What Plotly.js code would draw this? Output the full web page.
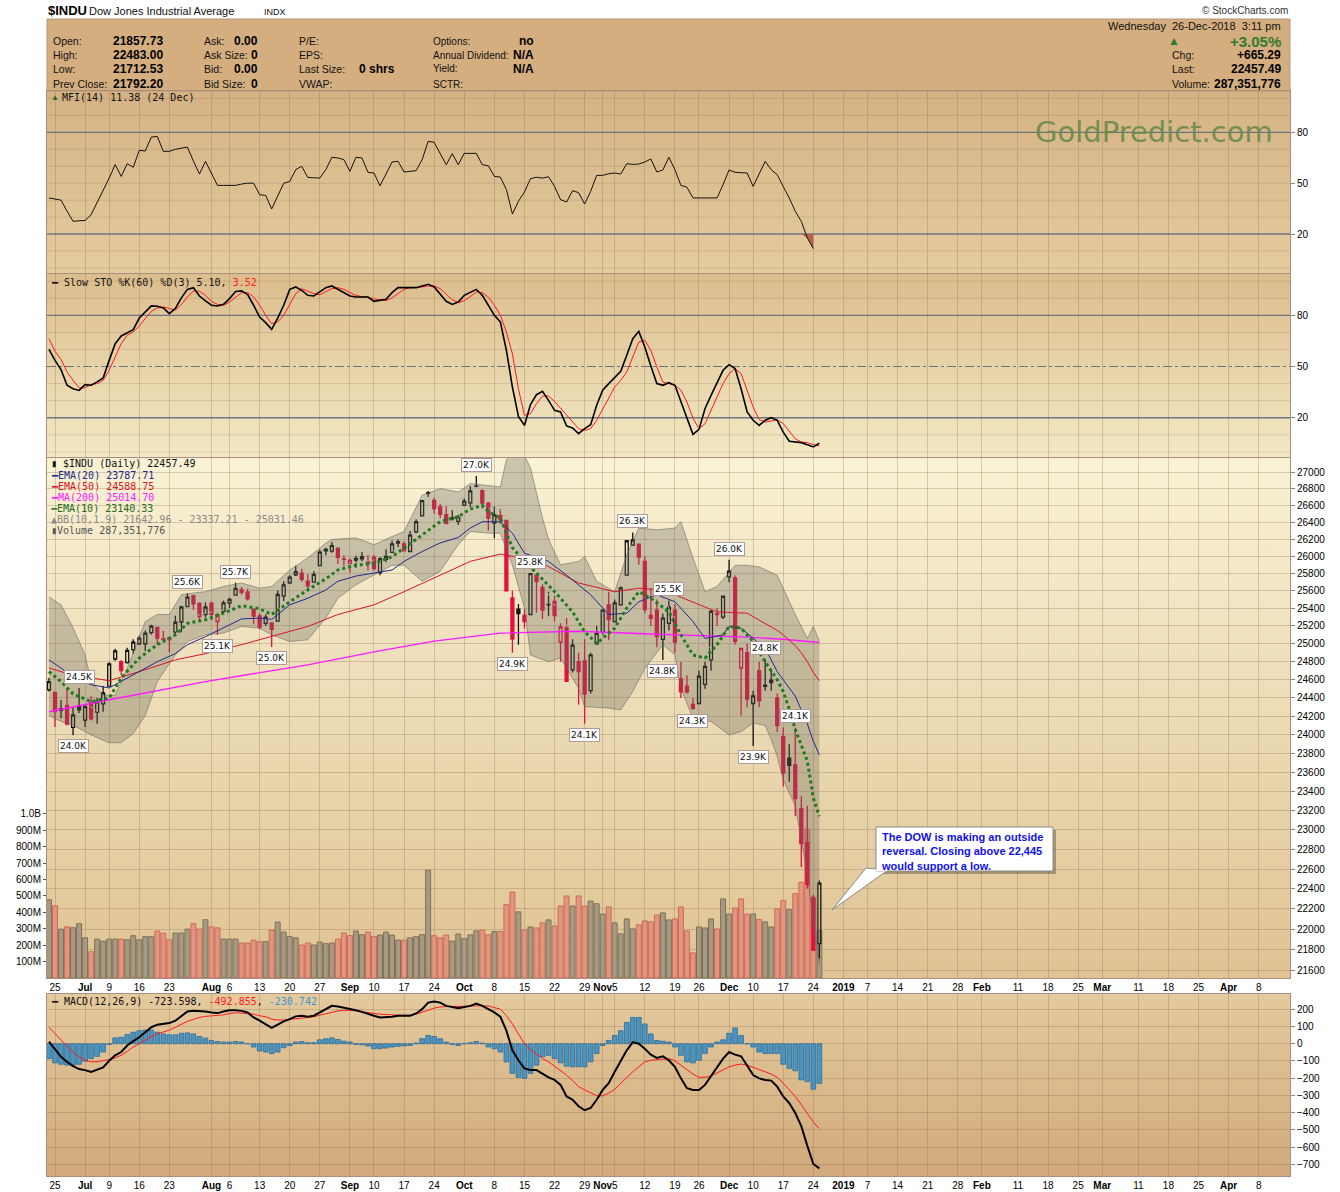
<!DOCTYPE html>
<html><head><meta charset="utf-8">
<script src="https://cdn.plot.ly/plotly-3.0.1.min.js"></script>
<style>html,body{margin:0;padding:0;background:#fff}#chart{width:1340px;height:1192px}</style>
</head><body><div id="chart"></div>
<script>
// ---------------- DATA ----------------
const open = [24490,24460,24265,24320,24080,24313,24160,24355,24245,24335,
24530,24830,24800,24790,24935,25000,25000,25125,25185,25050,
25070,25130,25245,25420,25545,25455,25330,25460,25250,25365,
25460,25550,25615,25585,25390,25315,25230,25235,25255,25540,
25690,25785,25805,25710,25700,25890,26080,26060,26095,25970,
25915,25955,25970,25935,25985,25810,25965,26045,26170,26145,
26055,26285,26475,26750,26660,26580,26490,26450,26410,26600,
26630,26830,26775,26625,26390,26480,26420,25520,25390,25320,
25330,25780,25640,25440,25480,25020,25180,24710,24800,24810,
24480,25000,25130,25440,25250,25440,25780,26130,26140,25940,
25320,25380,25050,25230,25380,24610,24530,24330,24340,24550,
24820,25330,25300,25760,25750,24730,24900,24340,24700,24540,
24570,24400,23980,23750,23680,23220,22870,22315,21857.73];
const high = [24620,24460,24375,24510,24300,24510,24320,24420,24400,24530,
24795,24945,24815,24955,25050,25090,25150,25215,25185,25145,
25080,25315,25430,25572,25555,25470,25470,25475,25350,25490,
25520,25692,25645,25625,25390,25345,25330,25235,25605,25710,
25780,25890,25855,25790,25825,26075,26100,26165,26095,26010,
25975,26005,26050,26015,26015,25990,26080,26185,26195,26175,
26295,26435,26660,26770,26690,26620,26590,26540,26485,26680,
26830,26951,26790,26640,26585,26555,26420,25600,25450,25390,
25800,25800,25675,25590,25540,25230,25290,25050,24900,25050,
24900,25200,25390,25590,25500,25650,26181,26278,26150,26000,
25630,25500,25340,25490,25450,24800,24650,24400,24700,24800,
25380,25400,25540,25960,25780,24950,25000,24480,24800,24830,
24700,24450,24080,23900,24080,23350,23250,22340,22483.00];
const low = [24470,24085,24180,24105,23997,24236,24085,24155,24120,24250,
24530,24810,24650,24780,24890,24985,24920,25105,24985,25010,
24905,25110,25130,25415,25380,25265,25295,25265,25100,25345,
25405,25550,25555,25490,25220,25160,25200,24965,25255,25485,
25680,25770,25705,25605,25700,25890,26010,26040,25910,25870,
25810,25865,25935,25835,25835,25780,25930,26045,26105,26055,
26055,26270,26475,26700,26500,26445,26375,26420,26365,26595,
26580,26815,26560,26300,26210,26375,25590,24900,24990,25170,
25330,25350,25280,25310,25250,24800,24580,24680,24330,24120,
24450,24990,25100,25040,25240,25430,25780,26120,25900,25340,
25200,24960,24820,25150,24900,24400,24450,24270,24330,24500,
24700,25200,25280,25700,24990,24210,24300,23881,24300,24480,
24480,24030,23450,23500,23140,22620,22400,21792,21712.53];
const close = [24580,24252,24283,24117,24216,24271,24307,24174,24357,24456,
24776,24920,24700,24925,25019,25064,25120,25199,25064,25058,
25044,25242,25415,25527,25451,25307,25415,25333,25326,25463,
25502,25629,25583,25509,25313,25187,25300,25162,25558,25669,
25758,25822,25733,25656,25790,26049,26064,26124,25986,25965,
25952,25974,25995,25916,25857,25971,25999,26145,26154,26062,
26246,26405,26657,26743,26562,26492,26385,26439,26458,26651,
26773,26828,26627,26447,26486,26430,25599,25053,25340,25250,
25798,25706,25380,25444,25317,25191,24583,24984,24689,24443,
24875,25116,25380,25271,25462,25635,26181,26191,25989,25387,
25287,25081,25290,25413,25018,24466,24465,24286,24640,24749,
25366,25339,25538,25826,25027,24947,24389,24423,24370,24528,
24597,24101,23592,23675,23324,22859,22445,21792.20,22457.49];
// volume in millions of shares
const volumeM = [477,440,298,312,306,331,245,160,237,225,
237,237,237,233,258,233,252,252,286,274,
233,274,274,298,331,298,355,312,306,237,
237,237,213,213,231,221,221,292,341,280,
252,245,201,213,201,219,209,213,237,274,
258,286,264,280,252,262,280,262,231,231,
245,252,264,657,258,245,262,225,268,240,
263,287,293,263,283,283,447,524,403,293,
311,305,336,354,317,439,500,439,500,439,
469,453,390,433,336,269,360,299,324,348,
342,384,397,354,360,433,287,153,311,305,
360,299,482,390,427,482,390,390,356,342,
311,421,473,417,514,583,907,482,287];
// Money Flow Index (to 24 Dec)
const mfi = [41.3,40.5,40,33.5,27.5,27.8,28,31.4,38.3,46,
53,61,54,61.5,59.4,69.4,69,77.2,77.6,68.8,
68.8,70,70.6,71.3,63,55.4,62.9,55.8,48.7,48.7,
48.7,48.7,49.5,50,50,43.2,42.8,34.8,42.4,50,
51,58,60,53.4,53.2,53,58,65.3,64.9,63.9,
57,65.3,64.9,56.4,56,48.5,55.4,62.5,62.9,56.6,
57,57.4,63.9,74.7,74.1,67.8,60.9,67.4,60.9,67.6,
67.6,67.6,60.9,60.3,54,53.6,46.2,31.8,39.3,44.8,
52.7,53.5,53,53.8,48.1,40.3,38.9,45.6,44.4,37.7,
45.2,54.6,54.6,55.6,56,55.4,61.5,61.1,61.3,62.5,
64.3,56.6,57.8,65.3,58,48.7,47.6,41.3,41.3,41.3,
41.3,41.3,49.1,57.8,56.4,56.2,56,48.1,55.4,62.9,
58,55,48,41.3,33.4,27.5,17.7,11.38];
// Slow stochastic %K(60) and %D(3)
const stoK = [60.1,53.6,48.2,39,37,36,39.4,39,41,43.3,
53.6,63.4,67.9,69.8,71.6,78.4,82,85.5,85.3,84.3,
81,84,90.2,95.2,96.2,91.3,88.4,85.9,85.5,86.4,
89.8,94,94.3,92.1,85.9,79,75.7,71.8,78.4,85.9,
95.2,96.6,94.6,91.7,91.3,94,96.2,97.2,95.2,93.3,
91.3,90.7,90.7,90.7,88.2,88.6,89.4,93.3,96.2,96.2,
96.2,96.2,97.2,98.2,96.6,92.7,88.2,86.4,87.8,91.7,
93.7,95.2,91.7,85.9,80,76.1,59.5,38,20.8,15.5,
27.7,33.5,35.5,30.2,24.3,23.4,15.2,14,10.7,13.6,
15.9,27.3,36.1,40,43.9,47.2,56.6,66.3,70.6,61.4,
50.3,40,39,40.5,39,29.2,19.5,10.3,13.2,25.3,
33.1,40,47.8,51.1,48.8,37,23.4,18.5,15.5,18.5,
20,18.5,11.6,6.2,5.8,5.4,4.2,2.9,5.10];
const stoD = [66.3,58.9,54.2,46.8,41.9,37.4,37.6,39.4,40,41.9,
47.8,55.6,63.4,68.3,70.2,73.8,78,82.3,84.3,84.9,
84,83,86.3,90.7,94.3,94.1,91.7,88.2,86.4,85.9,
87.8,90.7,93.3,93.3,90.7,85.9,80,75.1,76.1,80,
86.8,92.7,95.6,94.3,92.7,92.1,93.7,95.6,96.2,95.2,
93.3,91.7,90.9,90.7,89.6,89,88.6,90.2,92.9,95.2,
96.2,96.2,96.6,97.2,97.2,95.6,92.1,89.2,87.4,88.6,
90.9,93.7,93.3,90.7,85.9,80,70.2,57.5,37,21.4,
22.4,28.2,32.7,32.7,29.6,25.7,21.4,17.9,13.6,12.6,
13.6,18.5,25.3,32.1,38,41.9,46.8,55.6,64.4,65.4,
59.5,49.7,40.9,40,39,36.1,29.2,19.8,13.6,16.5,
24.3,33.1,40,45.8,48.8,45.8,36.1,26.3,18.9,17.5,
18.1,18.9,16.5,12,7.7,5.8,5.4,4.2,3.52];
// MACD(12,26,9)
const macd = [13,-34,-76,-105,-130,-147,-153,-164,-153,-138,
-99,-67,-48,-10,15,38,67,96,111,117,
120,134,163,187,191,191,187,182,178,187,
195,195,191,182,153,134,115,92,111,130,
143,159,163,157,163,182,201,220,216,210,
205,195,185,176,163,153,153,157,163,161,
163,176,201,239,245,239,220,214,207,214,
220,233,220,201,182,157,76,-38,-96,-143,
-153,-153,-176,-195,-210,-239,-306,-325,-363,-386,
-373,-325,-268,-229,-163,-96,-38,10,0,-29,
-63,-82,-73,-96,-134,-201,-258,-268,-268,-239,
-187,-140,-86,-48,-63,-73,-130,-182,-201,-210,
-214,-249,-306,-344,-402,-478,-593,-698,-723.598];
const signal = [96,57,19,-15,-48,-76,-96,-105,-105,-99,
-92,-82,-67,-44,-19,0,23,42,57,67,
80,96,115,130,141,153,159,161,164,168,
176,180,178,176,172,163,157,143,138,138,
143,147,149,153,157,166,172,182,191,195,
195,191,185,182,176,172,168,168,166,166,
166,172,182,195,207,214,216,216,216,214,
218,220,220,220,210,201,163,115,57,0,
-34,-61,-86,-105,-130,-153,-182,-214,-249,-268,
-287,-302,-302,-287,-264,-229,-195,-163,-134,-105,
-96,-92,-86,-86,-99,-124,-153,-176,-195,-195,
-187,-168,-149,-134,-124,-118,-124,-138,-153,-163,
-176,-195,-229,-268,-306,-354,-402,-455,-492.855];
const hist = [-86,-111,-119,-124,-124,-119,-101,-86,-73,-48,
-4,34,38,54,67,76,80,80,67,57,
52,52,61,63,57,42,33,19,13,10,
10,13,10,0,-19,-42,-48,-57,-48,-23,
-10,10,13,6,6,23,29,34,25,15,
10,-4,-6,-13,-29,-29,-25,-19,-15,-13,
-10,4,29,48,42,29,10,-4,-10,0,
6,13,4,-19,-29,-48,-105,-172,-195,-201,
-172,-124,-76,-67,-86,-111,-130,-134,-134,-134,
-105,-57,-10,19,48,76,124,153,153,115,
57,19,15,10,-19,-67,-105,-111,-96,-57,
-19,10,23,61,92,48,0,-19,-48,-57,
-57,-57,-119,-143,-157,-210,-220,-264,-230.742];
// overlays read at sample days (index into trading-day list)
const ema20At = [0,2,4,7,10,12,15,18,21,23,26,29,32,35,37,40,43,46,48,51,54,57,59,62,65,68,70,72,75,77,79,83,86,90,93,96,98,101,104,107,109,112,113,115,119,121,124,125,126,127,128];
const ema20 = [24820,24730,24630,24545,24510,24580,24690,24800,24890,24990,25080,25180,25280,25290,25275,25440,25515,25610,25710,25770,25805,25840,25940,26055,26155,26220,26330,26405,26405,26270,26035,25940,25780,25555,25330,25345,25475,25555,25475,25250,25060,25100,25195,25175,24950,24690,24420,24260,24120,23930,23787.71];
const ema10At = [0,2,4,7,10,12,15,18,21,23,26,29,32,35,37,40,43,46,48,51,54,57,59,62,65,68,70,72,73,75,77,79,81,84,87,89,91,94,96,98,100,103,105,107,109,111,113,115,117,119,121,122,123,124,125,126,127,128];
const ema10 = [24690,24580,24445,24360,24400,24620,24840,24990,25100,25230,25270,25345,25430,25395,25330,25475,25610,25740,25840,25895,25915,25995,26095,26250,26405,26465,26555,26600,26525,26445,26100,25940,25805,25590,25360,25135,25005,25175,25405,25590,25515,25360,25100,24875,24840,24990,25195,25175,25025,24800,24600,24470,24280,24060,23900,23720,23330,23140.33];
const ema50At = [0,4,10,15,21,26,32,37,43,48,54,59,65,70,75,77,80,83,88,94,98,102,108,111,116,121,122,123,124,125,126,127,128];
const ema50 = [24730,24650,24590,24690,24820,24890,24990,25080,25195,25330,25440,25590,25780,25940,26025,26000,25960,25880,25690,25590,25630,25610,25440,25360,25345,25150,25100,25040,24980,24900,24800,24680,24588.75];
const ma200At = [0,10,26,43,54,64,75,88,100,110,116,122,128];
const ma200 = [24250,24380,24580,24765,24910,25030,25120,25140,25110,25085,25075,25050,25014.70];
const bbUpAt = [0,2,4,6,7,9,11,13,16,18,20,22,24,26,29,32,35,37,40,43,46,47,51,54,57,59,62,65,68,70,75,76,77,79,80,81,82,83,85,88,89,91,94,96,98,101,104,105,107,109,111,114,116,118,121,124,126,127,128];
const bbUp = [25530,25440,25180,24875,24580,24430,24430,24730,25250,25330,25330,25555,25575,25590,25650,25690,25630,25650,25840,25980,26155,26195,26215,26135,26230,26290,26720,26800,26760,26860,26820,27150,27250,27200,27050,26750,26450,26200,25900,25940,25995,25710,25590,26015,26330,26310,26330,26405,25980,25590,25650,25895,25895,25875,25780,25330,25060,25195,25031.46];
const bbLoAt = [0,2,4,7,10,12,14,16,18,21,23,26,29,32,35,37,40,43,46,48,51,54,57,59,62,65,68,70,73,75,77,79,80,83,85,88,89,93,95,97,99,102,104,105,107,110,113,115,117,119,120,121,122,124,125,126,127,128];
const bbLo = [24210,24145,24105,24000,23915,23915,24015,24210,24580,24875,25025,25100,25120,25195,25175,25100,25025,25045,25290,25515,25670,25780,25895,25895,25710,25825,26135,26290,26270,26270,25895,25405,24875,24800,24840,24505,24305,24290,24270,24470,24725,24990,24875,24505,24180,24145,24000,24035,24130,24100,23950,23770,23520,23250,22900,22550,22050,21642.96];
const bbMidAt = [0,4,7,10,12,14,16,18,21,23,26,29,32,35,37,40,43,46,48,51,54,57,59,62,65,68,70,75,77,80,83,86,89,92,94,97,100,102,104,107,110,113,116,119,121,124,125,126,127,128];
const bbMid = [24860,24640,24300,24170,24170,24400,24730,24950,25100,25290,25345,25380,25440,25405,25370,25430,25505,25720,25860,25930,25955,26060,26095,26215,26310,26450,26580,26545,26370,26015,25555,25210,24990,24985,25080,25405,25555,25515,25290,25025,24950,25100,25005,24910,24750,24300,24050,23800,23550,23337.21];
// price flags: [day index, 'H' = high / 'L' = low]
const flags = [[4,'L'],[5,'H'],[23,'H'],[28,'L'],[31,'H'],[37,'L'],[71,'H'],[77,'L'],[80,'H'],[89,'L'],[97,'H'],[102,'L'],[103,'H'],[107,'L'],[113,'H'],[117,'L'],[119,'H'],[124,'H']];
// axis ticks
const tickDates = ['2018-06-25','2018-07-02','2018-07-09','2018-07-16','2018-07-23','2018-08-01','2018-08-06','2018-08-13','2018-08-20','2018-08-27','2018-09-04','2018-09-10','2018-09-17','2018-09-24','2018-10-01','2018-10-08','2018-10-15','2018-10-22','2018-10-29','2018-11-01','2018-11-05','2018-11-12','2018-11-19','2018-11-26','2018-12-03','2018-12-10','2018-12-17','2018-12-24','2019-01-01','2019-01-07','2019-01-14','2019-01-21','2019-01-28','2019-02-01','2019-02-11','2019-02-18','2019-02-25','2019-03-01','2019-03-11','2019-03-18','2019-03-25','2019-04-01','2019-04-08'];
const tickLabels = ['25','Jul','9','16','23','Aug','6','13','20','27','Sep','10','17','24','Oct','8','15','22','29','Nov','5','12','19','26','Dec','10','17','24','2019','7','14','21','28','Feb','11','18','25','Mar','11','18','25','Apr','8'];
const priceTicks = [21600,21800,22000,22200,22400,22600,22800,23000,23200,23400,23600,23800,24000,24200,24400,24600,24800,25000,25200,25400,25600,25800,26000,26200,26400,26600,26800,27000];
const volTicks = [1e8,2e8,3e8,4e8,5e8,6e8,7e8,8e8,9e8,1e9];
const volTickText = ['100M','200M','300M','400M','500M','600M','700M','800M','900M','1.0B'];
const quoteRows = [
  ['Open:','21857.73','Ask:','0.00','P/E:','','Options:','no'],
  ['High:','22483.00','Ask Size:','0','EPS:','','Annual Dividend:','N/A'],
  ['Low:','21712.53','Bid:','0.00','Last Size:','0 shrs','Yield:','N/A'],
  ['Prev Close:','21792.20','Bid Size:','0','VWAP:','','SCTR:','']
];
const quoteRight = [['Chg:','+665.29'],['Last:','22457.49'],['Volume:','287,351,776']];

// ---------------- calendar (trading days + future weekdays) ----------------
const fmt = d => d.toISOString().slice(0,10);
const holidays = new Set(['2018-07-04','2018-09-03','2018-11-22','2018-12-05','2018-12-25']);
const allDates = [];
for (let d = new Date(Date.UTC(2018,5,22)); d <= new Date(Date.UTC(2019,3,12)); d.setUTCDate(d.getUTCDate()+1)) {
  const wd = d.getUTCDay(), s = fmt(d);
  if (wd === 0 || wd === 6) continue;
  if (holidays.has(s)) continue;
  allDates.push(s);
}
const dayIdx = {}; allDates.forEach((d,i)=>dayIdx[d]=i);
const tickIdx = tickDates.map(d => dayIdx[d]);
const monthSet = new Set(['Jul','Aug','Sep','Oct','Nov','Dec','2019','Feb','Mar','Apr']);
const tickText = tickLabels.map(t => monthSet.has(t) ? '<b>'+t+'</b>' : t);

// ---------------- geometry helpers (pixel -> paper) ----------------
const ML = 47, MR = 50, MT = 19, MB = 16, W = 1340, H = 1192;
const PW = W - ML - MR, PH = H - MT - MB;
const PX = X => (X - ML) / PW;
const PY = Y => (H - MB - Y) / PH;
const dom = {
  macd: [PY(1176), PY(994)], price: [PY(978), PY(458)],
  sto: [PY(457), PY(274)], mfi: [PY(273), PY(91)], head: [PY(91), PY(19)]
};

const N = close.length;
const xs = close.map((_, i) => i);
const RED = '#e3103c', BLK = '#111111', HOLLOW = 'rgba(0,0,0,0)';

// ---------------- traces ----------------
const traces = [];
const volColor = xs.map(i => (i > 0 && close[i] < close[i-1]) ? '#e0967f' : '#a89a80');
const volLine = xs.map(i => (i > 0 && close[i] < close[i-1]) ? '#cf6a58' : '#7e705c');
traces.push({type:'bar', x: xs, y: volumeM.map(v => v*1e6), xaxis:'x2', yaxis:'y2',
  marker:{color: volColor, line:{color: volLine, width:1}}, width:0.82, hoverinfo:'skip', showlegend:false});

const cat = i => (close[i] >= open[i] ? 'h' : 'f') + ((i > 0 && close[i] < close[i-1]) ? 'r' : 'k');
const cStyle = {hk:[BLK,HOLLOW], hr:[RED,HOLLOW], fk:[BLK,BLK], fr:[RED,RED]};
Object.keys(cStyle).forEach(k => {
  const ids = xs.filter(i => cat(i) === k);
  const [lc, fc] = cStyle[k];
  traces.push({type:'candlestick', x: ids, open: ids.map(i=>open[i]), high: ids.map(i=>high[i]),
    low: ids.map(i=>low[i]), close: ids.map(i=>close[i]), xaxis:'x2', yaxis:'y3',
    increasing:{line:{color:lc, width:1.3}, fillcolor:fc}, decreasing:{line:{color:lc, width:1.3}, fillcolor:fc},
    whiskerwidth:0, hoverinfo:'skip', showlegend:false});
});
traces.push({type:'scatter', mode:'lines', x: bbLoAt, y: bbLo, xaxis:'x2', yaxis:'y3',
  line:{color:'rgba(100,100,92,0.55)', width:1}, hoverinfo:'skip', showlegend:false});
traces.push({type:'scatter', mode:'lines', x: bbUpAt, y: bbUp, xaxis:'x2', yaxis:'y3', fill:'tonexty',
  fillcolor:'rgba(105,105,95,0.33)', line:{color:'rgba(100,100,92,0.55)', width:1}, hoverinfo:'skip', showlegend:false});
traces.push({type:'scatter', mode:'lines', x: bbMidAt, y: bbMid, xaxis:'x2', yaxis:'y3',
  line:{color:'#b4b2a6', width:1, dash:'dot'}, hoverinfo:'skip', showlegend:false});
const lineT = (at, v, color, width, dash) => ({type:'scatter', mode:'lines', x: at, y: v, xaxis:'x2', yaxis:'y3',
  line:{color, width, dash: dash || 'solid'}, hoverinfo:'skip', showlegend:false});
traces.push(lineT(ma200At, ma200, '#ff1aff', 1.4));
traces.push(lineT(ema50At, ema50, '#d9142a', 1));
traces.push(lineT(ema20At, ema20, '#1f2a8c', 1));
traces.push(lineT(ema10At, ema10, '#1e7a1e', 3, 'dot'));

// MFI
const mfiX = mfi.map((_, i) => i);
const below = mfiX.filter(i => mfi[i] < 20 || (i+1 < mfi.length && mfi[i+1] < 20));
traces.push({type:'scatter', mode:'lines', x: below, y: below.map(()=>20), xaxis:'x4', yaxis:'y5',
  line:{width:0, color:'rgba(0,0,0,0)'}, hoverinfo:'skip', showlegend:false});
traces.push({type:'scatter', mode:'lines', x: below, y: below.map(i=>Math.min(20, mfi[i])), xaxis:'x4', yaxis:'y5',
  fill:'tonexty', fillcolor:'#b2614f', line:{width:0, color:'rgba(0,0,0,0)'}, hoverinfo:'skip', showlegend:false});
traces.push({type:'scatter', mode:'lines', x: mfiX, y: mfi, xaxis:'x4', yaxis:'y5',
  line:{color:'#111', width:1}, hoverinfo:'skip', showlegend:false});
// Stochastics
traces.push({type:'scatter', mode:'lines', x: xs, y: stoD, xaxis:'x3', yaxis:'y4', line:{color:'#ff1a1a', width:1}, hoverinfo:'skip', showlegend:false});
traces.push({type:'scatter', mode:'lines', x: xs, y: stoK, xaxis:'x3', yaxis:'y4', line:{color:'#000', width:1.6}, hoverinfo:'skip', showlegend:false});
// MACD
traces.push({type:'bar', x: xs, y: hist, xaxis:'x', yaxis:'y', width:0.78,
  marker:{color:'#4a94c2', line:{color:'#2d6c98', width:0.8}}, hoverinfo:'skip', showlegend:false});
traces.push({type:'scatter', mode:'lines', x: xs, y: signal, xaxis:'x', yaxis:'y', line:{color:'#ff1a1a', width:1}, hoverinfo:'skip', showlegend:false});
traces.push({type:'scatter', mode:'lines', x: xs, y: macd, xaxis:'x', yaxis:'y', line:{color:'#000', width:2}, hoverinfo:'skip', showlegend:false});

// ---------------- shapes ----------------
const shapes = [];
shapes.push({type:'rect', xref:'paper', yref:'paper', x0:0, x1:1, y0:dom.head[0], y1:dom.head[1],
  fillcolor:'#d4ae7e', line:{color:'#b3967c', width:1}, layer:'below'});
const hline = (yref, y, color, width, dash, layer) => ({type:'line', xref:'paper', yref, x0:0, x1:1, y0:y, y1:y,
  line:{color, width, dash: dash || 'solid'}, layer: layer || 'below'});
for (let v = 0; v <= 100; v += 10) {
  if (v === 20 || v === 80) continue;
  shapes.push(hline('y5', v, 'rgba(140,110,80,0.22)', 1));
  if (v !== 50) shapes.push(hline('y4', v, 'rgba(140,110,80,0.22)', 1));
}
[20, 80].forEach(v => { shapes.push(hline('y5', v, '#6c7480', 1.3)); shapes.push(hline('y4', v, '#6c7480', 1.3)); });
shapes.push(hline('y4', 50, '#6c7480', 1.2, 'dashdot'));
const L = N - 1, lg = Math.log10;
shapes.push({type:'rect', xref:'x2', yref:'y3', x0:L-0.55, x1:L+0.55, y0:lg(low[L]), y1:lg(high[L]),
  fillcolor:'#ffff40', line:{width:0}, layer:'above'});
shapes.push({type:'line', xref:'x2', yref:'y3', x0:L, x1:L, y0:lg(low[L]), y1:lg(high[L]), line:{color:'#000', width:1.2}, layer:'above'});
shapes.push({type:'rect', xref:'x2', yref:'y3', x0:L-0.36, x1:L+0.36, y0:lg(open[L]), y1:lg(close[L]),
  fillcolor:'#ffff40', line:{color:'#000', width:1.2}, layer:'above'});
shapes.push({type:'rect', xref:'paper', yref:'paper', x0:PX(879), x1:PX(1056), y0:PY(874), y1:PY(830),
  fillcolor:'rgba(0,0,0,0.28)', line:{width:0}, layer:'above'});
shapes.push({type:'path', xref:'paper', yref:'paper',
  path:`M ${PX(866)} ${PY(868)} L ${PX(832)} ${PY(910)} L ${PX(888)} ${PY(870)} Z`,
  fillcolor:'#ffffff', line:{color:'#8a8a8a', width:1}, layer:'above'});
shapes.push({type:'rect', xref:'paper', yref:'paper', x0:PX(876), x1:PX(1053), y0:PY(871), y1:PY(827),
  fillcolor:'#ffffff', line:{color:'#8a8a8a', width:1}, layer:'above'});
shapes.push({type:'line', xref:'paper', yref:'paper', x0:PX(867), x1:PX(887), y0:PY(870.5), y1:PY(870.5),
  line:{color:'#ffffff', width:1.5}, layer:'above'});

// ---------------- annotations ----------------
const ann = [];
const SANS = 'Liberation Sans, Arial, sans-serif', MONO = 'DejaVu Sans Mono, monospace';
const txt = (X, Y, text, o) => Object.assign({xref:'paper', yref:'paper', x:PX(X), y:PY(Y), text, showarrow:false,
  xanchor:'left', yanchor:'middle', font:{family:SANS, size:10.5, color:'#111'}}, o || {});
const bold = {family:SANS, size:12, color:'#000'};
ann.push(txt(46, 11, '<b>$INDU</b>', {font:{family:SANS, size:13, color:'#000'}}));
ann.push(txt(87, 11, 'Dow Jones Industrial Average', {font:{family:SANS, size:11, color:'#111'}}));
ann.push(txt(262, 12, 'INDX', {font:{family:SANS, size:9, color:'#111'}}));
ann.push(txt(1290, 11, '© StockCharts.com', {xanchor:'right', font:{family:SANS, size:10, color:'#333'}}));
const rowY = [41, 55, 69, 84];
quoteRows.forEach((r, k) => {
  const y = rowY[k];
  ann.push(txt(51, y, r[0]));
  ann.push(txt(165, y, '<b>'+r[1]+'</b>', {xanchor:'right', font:bold}));
  ann.push(txt(202, y, r[2]));
  ann.push(txt(260, y, '<b>'+r[3]+'</b>', {xanchor:'right', font:bold}));
  ann.push(txt(297, y, r[4]));
  if (r[5]) ann.push(txt(357, y, '<b>'+r[5]+'</b>', {font:bold}));
  ann.push(txt(431, y, r[6], {font:{family:SANS, size:10, color:'#111'}}));
  if (r[7]) ann.push(txt(536, y, '<b>'+r[7]+'</b>', {xanchor:'right', font:bold}));
});
ann.push(txt(1283, 26, 'Wednesday  26-Dec-2018  3:11 pm', {xanchor:'right', font:{family:SANS, size:11, color:'#111'}}));
ann.push(txt(1166, 41, '▲', {font:{family:SANS, size:12, color:'#2f7a2f'}}));
ann.push(txt(1283, 41, '<b>+3.05%</b>', {xanchor:'right', font:{family:SANS, size:15, color:'#2f7a2f'}}));
quoteRight.forEach((r, k) => {
  ann.push(txt(1170, rowY[k+1], r[0]));
  ann.push(txt(1283, rowY[k+1], '<b>'+r[1]+'</b>', {xanchor:'right', font:bold}));
});
const mono = (X, Y, text, color) => txt(X, Y, text, {font:{family:MONO, size:10, color: color || '#111'}});
ann.push(txt(49, 98, '▲', {font:{family:SANS, size:8, color:'#2c6b2c'}}));
ann.push(mono(60, 98, 'MFI(14) 11.38 (24 Dec)'));
ann.push(mono(49, 282, '━ Slow STO %K(60) %D(3) 5.10, <span style="color:#ff1a1a">3.52</span>'));
ann.push(mono(49, 464, '▮ $INDU (Daily) 22457.49'));
ann.push(mono(49, 475.5, '━EMA(20) 23787.71', '#1f2a8c'));
ann.push(mono(49, 486.5, '━EMA(50) 24588.75', '#d9142a'));
ann.push(mono(49, 497.5, '━MA(200) 25014.70', '#ff1aff'));
ann.push(mono(49, 508.5, '╍EMA(10) 23140.33', '#1e6a1e'));
ann.push(mono(49, 519.5, '▲BB(10,1.9) 21642.96 - 23337.21 - 25031.46', '#8a8a86'));
ann.push(mono(49, 530, '▮Volume 287,351,776', '#555'));
ann.push(mono(49, 1001, '━ MACD(12,26,9) -723.598, <span style="color:#ff1a1a">-492.855</span>, <span style="color:#3a9ad0">-230.742</span>'));
ann.push(txt(1154, 132, 'GoldPredict.com', {xanchor:'center', font:{family:'DejaVu Sans, sans-serif', size:29, color:'#6c8a4a'}, opacity:0.9}));
ann.push({xref:'paper', yref:'paper', x:PX(879), y:PY(829), xanchor:'left', yanchor:'top', align:'left', showarrow:false,
  text:'<b>The DOW is making an outside<br>reversal. Closing above 22,445<br>would support a low.</b>',
  font:{family:SANS, size:11, color:'#1010ee'}});
flags.forEach(([i, t]) => {
  const v = t === 'H' ? high[i] : low[i];
  ann.push({xref:'x2', yref:'y3', x:i, y:lg(v), text:(v/1000).toFixed(1)+'K', showarrow:false,
    xanchor:'center', yanchor: t === 'H' ? 'bottom' : 'top', yshift: t === 'H' ? 4 : -4,
    bgcolor:'#ffffff', bordercolor:'#b09a9a', borderwidth:1, borderpad:1,
    font:{family:'DejaVu Sans, sans-serif', size:9, color:'#111'}});
});

// ---------------- layout ----------------
const GRID = 'rgba(140,110,80,0.30)', BORDER = '#a88f80';
const xBase = (anchor, labels) => ({anchor, domain:[0,1], range:[-0.33, 206.2], tickmode:'array', tickvals: tickIdx, ticktext: tickText,
  showticklabels: labels, ticks:'', ticklen:0, tickangle:0, automargin:false, rangeslider:{visible:false},
  showgrid:true, gridcolor:GRID, gridwidth:1, zeroline:false, showline:true, mirror:true, linecolor:BORDER, linewidth:1,
  tickfont:{family:SANS, size:10, color:'#000'}, fixedrange:true});
const yTickFont = {family:SANS, size:10, color:'#000'};
const layout = {
  width:W, height:H, margin:{l:ML, r:MR, t:MT, b:MB, autoexpand:false}, paper_bgcolor:'#ffffff', plot_bgcolor:'rgba(0,0,0,0)',
  showlegend:false, bargap:0, dragmode:false, hovermode:false,
  xaxis: xBase('y', true),
  xaxis2: xBase('y2', true),
  xaxis3: xBase('y4', false),
  xaxis4: xBase('y5', false),
  yaxis: {domain:dom.macd, anchor:'x', range:[-768, 289], side:'right', tickmode:'linear', tick0:0, dtick:100, automargin:false,
    showgrid:true, gridcolor:GRID, zeroline:false, showline:true, mirror:true, linecolor:BORDER,
    ticks:'outside', ticklen:4, tickcolor:'#888', tickfont:yTickFont},
  yaxis2: {domain:dom.price, anchor:'x2', range:[0, 3.17e9], side:'left', tickmode:'array', tickvals:volTicks, ticktext:volTickText, automargin:false,
    showgrid:false, zeroline:false, showline:true, mirror:true, linecolor:BORDER, ticks:'outside', ticklen:3, tickcolor:'#555',
    tickfont:{family:SANS, size:10, color:'#000'}},
  yaxis3: {overlaying:'y2', anchor:'x2', side:'right', type:'log', range:[4.332902, 4.434088], tickmode:'array', automargin:false,
    tickvals:priceTicks, ticktext:priceTicks.map(String), showgrid:true, gridcolor:GRID, zeroline:false,
    ticks:'outside', ticklen:4, tickcolor:'#888', tickfont:yTickFont},
  yaxis4: {domain:dom.sto, anchor:'x3', range:[-3, 104.2], side:'right', tickmode:'array', tickvals:[20,50,80], automargin:false,
    showgrid:false, zeroline:false, showline:true, mirror:true, linecolor:BORDER, ticks:'outside', ticklen:4, tickcolor:'#888', tickfont:yTickFont},
  yaxis5: {domain:dom.mfi, anchor:'x4', range:[-3, 104.4], side:'right', tickmode:'array', tickvals:[20,50,80], automargin:false,
    showgrid:false, zeroline:false, showline:true, mirror:true, linecolor:BORDER, ticks:'outside', ticklen:4, tickcolor:'#888', tickfont:yTickFont},
  shapes, annotations: ann, images: []
};
function grad(top, bot, d) {
  const svg = `<svg xmlns='http://www.w3.org/2000/svg' viewBox='0 0 10 100' preserveAspectRatio='none'><defs><linearGradient id='g' x1='0' y1='0' x2='0' y2='1'><stop offset='0' stop-color='${top}'/><stop offset='1' stop-color='${bot}'/></linearGradient></defs><rect width='10' height='100' fill='url(#g)'/></svg>`;
  return {source:'data:image/svg+xml;charset=utf-8,' + encodeURIComponent(svg), xref:'paper', yref:'paper',
    x:0, y:d[1], sizex:1, sizey:d[1]-d[0], sizing:'stretch', xanchor:'left', yanchor:'top', layer:'below'};
}
layout.images.push(grad('#d5b283', '#e4cc9f', dom.mfi));
layout.images.push(grad('#dcbd8d', '#f3e9c4', dom.sto));
layout.images.push(grad('#f9f2d5', '#dfc393', dom.price));
layout.images.push(grad('#e4ca9e', '#d1a97a', dom.macd));

Plotly.newPlot('chart', traces, layout, {displayModeBar:false, staticPlot:true});
</script></body></html>
